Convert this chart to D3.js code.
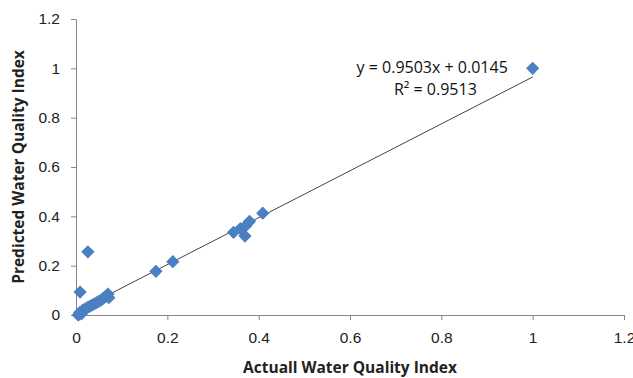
<!DOCTYPE html>
<html>
<head>
<meta charset="utf-8">
<script src="https://cdn.jsdelivr.net/npm/d3@7"></script>
<style>
  body { margin: 0; background: #fff; }
  svg { font-family: "Open Sans", "Liberation Sans", sans-serif; }
</style>
</head>
<body>
<div id="chart"></div>
<script>
const actual = [
  0.005, 0.008, 0.012, 0.015, 0.02, 0.025, 0.03, 0.035, 0.04, 0.045, 0.05,
  0.055, 0.06, 0.065, 0.07, 0.072, 0.009, 0.026,
  0.175, 0.212,
  0.345, 0.36, 0.372, 0.38, 0.37, 0.409,
  1.0
];
const predicted = [
  0.0, 0.01, 0.005, 0.02, 0.025, 0.03, 0.035, 0.04, 0.045, 0.05, 0.055,
  0.06, 0.068, 0.075, 0.085, 0.07, 0.093, 0.256,
  0.177, 0.216,
  0.335, 0.35, 0.362, 0.38, 0.32, 0.413,
  1.0
];
const xTicks = [0, 0.2, 0.4, 0.6, 0.8, 1, 1.2];
const yTicks = [0, 0.2, 0.4, 0.6, 0.8, 1, 1.2];
const slope = 0.9503, intercept = 0.0145;
const eqText = "y = 0.9503x + 0.0145";
const r2Text = "R² = 0.9513";
const xTitle = "Actuall Water Quality Index";
const yTitle = "Predicted Water Quality  Index";

const W = 633, H = 378;
const margin = { top: 19, right: 9, bottom: 63, left: 76 };
const width = W - margin.left - margin.right;
const height = H - margin.top - margin.bottom;

const svg = d3.select('#chart').append('svg')
  .attr('width', W).attr('height', H);
const g = svg.append('g')
  .attr('transform', 'translate(' + margin.left + ',' + margin.top + ')');

const x = d3.scaleLinear().domain([0, 1.2]).range([0, width]);
const y = d3.scaleLinear().domain([0, 1.2]).range([height, 0]);

// axes
const fmt = d => String(+d.toFixed(1));
const xAxis = g.append('g')
  .attr('transform', 'translate(0,' + height + ')')
  .call(d3.axisBottom(x).tickValues(xTicks).tickFormat(fmt).tickSize(5).tickSizeOuter(0).tickPadding(12));
const yAxis = g.append('g')
  .call(d3.axisLeft(y).tickValues(yTicks).tickFormat(fmt).tickSize(5).tickSizeOuter(0).tickPadding(11));
[xAxis, yAxis].forEach(a => {
  a.select('.domain').attr('stroke', '#868686');
  a.selectAll('.tick line').attr('stroke', '#868686');
  a.selectAll('.tick text').attr('fill', '#222').style('font-size', '15.5px');
});

// trend line
const line = d3.line().x(d => x(d)).y(d => y(slope * d + intercept));
g.append('path')
  .attr('d', line([0, d3.max(actual)]))
  .attr('fill', 'none')
  .attr('stroke', '#444')
  .attr('stroke-width', 1);

// points
const pts = actual.map((a, i) => ({ a, p: predicted[i] }));
g.selectAll('.pt').data(pts).enter().append('path')
  .attr('class', 'pt')
  .attr('d', d3.symbol().type(d3.symbolSquare).size(88))
  .attr('transform', d => 'translate(' + x(d.a) + ',' + y(d.p) + ') rotate(45)')
  .attr('fill', '#4a7fc1');

// equation
g.append('text')
  .attr('x', x(0.78)).attr('y', y(0.98))
  .attr('text-anchor', 'middle')
  .style('font-size', '16px').attr('fill', '#111')
  .text(eqText);
g.append('text')
  .attr('x', x(0.787)).attr('y', y(0.893))
  .attr('text-anchor', 'middle')
  .style('font-size', '16px').attr('fill', '#111')
  .text(r2Text);

// titles
svg.append('text')
  .attr('x', margin.left + x(0.6)).attr('y', 373)
  .attr('text-anchor', 'middle')
  .style('font-size', '15.5px').style('font-weight', 'bold').attr('fill', '#222')
  .text(xTitle);
svg.append('text')
  .attr('transform', 'translate(24,' + (margin.top + y(0.6)) + ') rotate(-90)')
  .attr('text-anchor', 'middle')
  .style('font-size', '15.5px').style('font-weight', 'bold').attr('fill', '#222')
  .text(yTitle);
</script>
</body>
</html>
